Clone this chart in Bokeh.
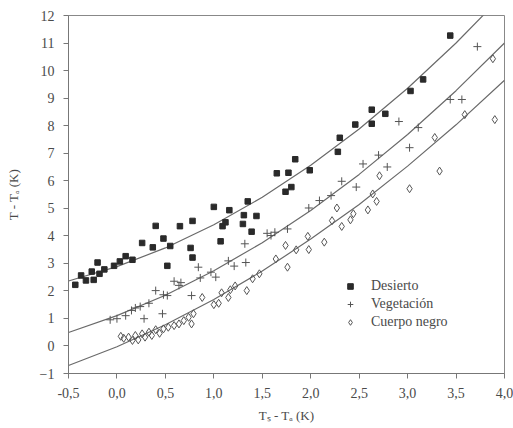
from bokeh.plotting import figure
from bokeh.embed import file_html
from bokeh.resources import INLINE
from bokeh.models import Legend, LegendItem, FixedTicker, Range1d

# ---- data ----
desierto_x = [-0.43, -0.37, -0.32, -0.26, -0.24, -0.20, -0.18, -0.13, -0.03, 0.03, 0.09, 0.16,
              0.26, 0.37, 0.40, 0.48, 0.52, 0.55, 0.65, 0.76, 0.78, 0.78, 1.00, 1.07, 1.09, 1.12,
              1.16, 1.30, 1.31, 1.35, 1.39, 1.44, 1.65, 1.74, 1.77, 1.80, 1.84, 1.99, 2.28, 2.30,
              2.46, 2.63, 2.63, 2.77, 3.03, 3.16, 3.44]
desierto_y = [2.22, 2.56, 2.38, 2.70, 2.40, 3.03, 2.62, 2.78, 2.91, 3.07, 3.26, 3.13,
              3.74, 3.58, 4.36, 3.90, 2.91, 3.63, 4.35, 3.56, 4.54, 3.21, 5.05, 3.80, 4.35, 4.49,
              4.93, 4.43, 4.75, 5.25, 4.15, 4.72, 6.27, 5.60, 6.29, 5.77, 6.78, 6.38, 7.05, 7.56,
              8.04, 8.07, 8.58, 8.43, 9.26, 9.68, 11.27]

veg_x = [-0.07, 0.00, 0.09, 0.15, 0.19, 0.24, 0.28, 0.33, 0.40, 0.47, 0.48, 0.52, 0.59, 0.64,
         0.66, 0.77, 0.84, 0.86, 0.97, 1.02, 1.15, 1.21, 1.33, 1.32, 1.55, 1.59, 1.63, 1.76, 1.98,
         2.09, 2.21, 2.32, 2.47, 2.54, 2.70, 2.79, 2.91, 3.02, 3.11, 3.44, 3.56, 3.72]
veg_y = [0.95, 0.99, 1.10, 1.29, 1.38, 1.43, 0.99, 1.55, 2.01, 1.17, 1.86, 1.83, 2.35, 2.20,
         2.30, 1.83, 2.86, 2.47, 2.68, 2.50, 3.09, 2.90, 3.03, 3.71, 4.09, 4.01, 4.13, 4.25, 5.01,
         5.28, 5.46, 5.98, 5.77, 6.61, 6.93, 6.50, 8.15, 7.20, 7.93, 8.95, 8.95, 10.87]

cuerpo_x = [0.04, 0.07, 0.12, 0.16, 0.19, 0.22, 0.26, 0.29, 0.33, 0.36, 0.40, 0.44, 0.48, 0.53,
            0.59, 0.64, 0.69, 0.74, 0.79, 0.77, 0.88, 1.00, 1.05, 1.08, 1.15, 1.17, 1.22, 1.34,
            1.40, 1.47, 1.64, 1.76, 1.74, 1.85, 1.97, 1.98, 2.14, 2.22, 2.27, 2.32, 2.41, 2.44,
            2.59, 2.64, 2.68, 2.71, 3.02, 3.28, 3.33, 3.59, 3.88, 3.90]
cuerpo_y = [0.35, 0.28, 0.32, 0.20, 0.38, 0.22, 0.44, 0.32, 0.50, 0.38, 0.59, 0.46, 0.62, 0.68,
            0.74, 0.80, 0.92, 1.04, 1.17, 0.80, 1.76, 1.50, 1.55, 1.93, 1.76, 2.04, 2.18, 2.01,
            2.44, 2.62, 3.16, 2.86, 3.65, 3.49, 3.98, 3.50, 3.77, 4.55, 5.01, 4.34, 4.58, 4.80,
            4.94, 5.52, 5.25, 6.18, 5.71, 7.57, 6.35, 8.40, 10.43, 8.22]

# fitted curves at every 0.5 K
curve_x = [-0.5, 0.0, 0.5, 1.0, 1.5, 2.0, 2.5, 3.0, 3.5, 4.0]
curve_desierto = [2.36, 2.88, 3.56, 4.40, 5.40, 6.56, 7.88, 9.36, 11.00, 12.80]
curve_veg = [0.49, 1.10, 1.84, 2.73, 3.75, 4.92, 6.23, 7.68, 9.27, 11.00]
curve_cuerpo = [-0.71, -0.03, 0.77, 1.69, 2.72, 3.88, 5.14, 6.53, 8.03, 9.65]

x_ticks = [-0.5, 0.0, 0.5, 1.0, 1.5, 2.0, 2.5, 3.0, 3.5, 4.0]
x_tick_labels = ["-0,5", "0,0", "0,5", "1,0", "1,5", "2,0", "2,5", "3,0", "3,5", "4,0"]
y_ticks = list(range(-1, 13))

labels = ["Desierto", "Vegetación", "Cuerpo negro"]

FONT = "Liberation Serif"
TXT = "#4a4a4a"

p = figure(width=513, height=428, output_backend="svg", toolbar_location=None,
           x_range=Range1d(-0.5, 4.0), y_range=Range1d(-1, 12),
           min_border_left=68, min_border_right=9, min_border_top=15, min_border_bottom=55)
p.background_fill_color = "white"
p.border_fill_color = "white"
p.outline_line_color = "#888888"
p.outline_line_width = 1
p.grid.visible = False

curve_col = "#6a6a6a"
p.line(curve_x, curve_desierto, line_color=curve_col, line_width=1.2)
p.line(curve_x, curve_veg, line_color=curve_col, line_width=1.2)
p.line(curve_x, curve_cuerpo, line_color=curve_col, line_width=1.2)

r1 = p.scatter(desierto_x, desierto_y, marker="square", size=5.5, fill_color="#2a2a2a",
               line_color="#2a2a2a")
r2 = p.scatter(veg_x, veg_y, marker="cross", size=8, line_color="#555555", line_width=1)
r3 = p.scatter(cuerpo_x, cuerpo_y, marker="diamond", size=8, fill_color=None,
               line_color="#555555", line_width=1)

legend = Legend(items=[LegendItem(label=labels[0], renderers=[r1]),
                       LegendItem(label=labels[1], renderers=[r2]),
                       LegendItem(label=labels[2], renderers=[r3])],
                location=(275, 42), background_fill_alpha=0, border_line_alpha=0,
                padding=0, margin=0, spacing=0, glyph_width=14, glyph_height=18,
                label_height=18, label_standoff=14,
                label_text_font=FONT, label_text_font_size="14px", label_text_color=TXT)
p.add_layout(legend, "center")

for ax in (p.xaxis[0], p.yaxis[0]):
    ax.axis_line_color = "#777777"
    ax.major_tick_line_color = "#777777"
    ax.minor_tick_line_color = None
    ax.major_tick_in = 0
    ax.major_tick_out = 5
    ax.major_label_text_font = FONT
    ax.major_label_text_font_size = "14px"
    ax.major_label_text_color = TXT
    ax.axis_label_text_font = FONT
    ax.axis_label_text_font_size = "13px"
    ax.axis_label_text_font_style = "normal"
    ax.axis_label_text_color = TXT

p.xaxis.ticker = FixedTicker(ticks=x_ticks)
p.xaxis.major_label_overrides = {t: l for t, l in zip(x_ticks, x_tick_labels)}
p.yaxis.ticker = FixedTicker(ticks=y_ticks)
p.xaxis.axis_label = "Tₛ - Tₐ (K)"
p.yaxis.axis_label = "T - Tₐ (K)"
p.xaxis.major_label_standoff = 9
p.yaxis.major_label_standoff = 9
p.xaxis.axis_label_standoff = 7
p.yaxis.axis_label_standoff = 16

open("out.html", "w").write(file_html(p, INLINE))
